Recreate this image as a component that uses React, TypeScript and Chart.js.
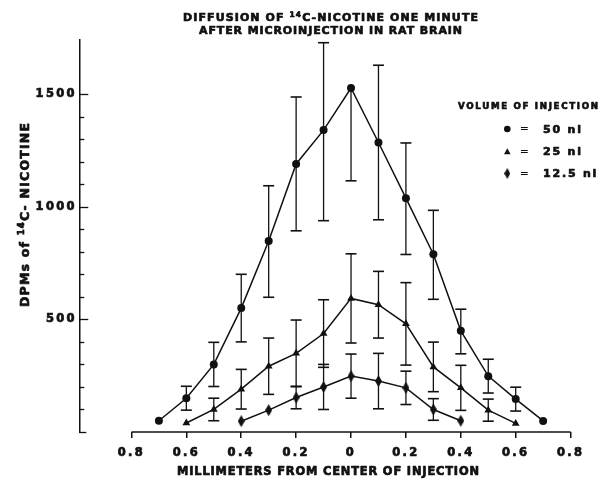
import React, { useEffect, useRef } from "react";
import { Chart, registerables } from "chart.js";
Chart.register(...registerables);

// ---- data ----
const xs50 = [-0.7, -0.6, -0.5, -0.4, -0.3, -0.2, -0.1, 0, 0.1, 0.2, 0.3, 0.4, 0.5, 0.6, 0.7];
const dpm50 = [50, 150, 300, 550, 848, 1190, 1340, 1527, 1285, 1038, 789, 449, 248, 146, 49];
const errUp50 = [0, 53, 98, 150, 245, 297, 388, 0, 343, 245, 195, 96, 75, 53, 0];
const errDown50 = [0, 53, 98, 150, 250, 297, 402, 412, 343, 250, 200, 102, 75, 53, 0];

const xs25 = [-0.6, -0.5, -0.4, -0.3, -0.2, -0.1, 0, 0.1, 0.2, 0.3, 0.4, 0.5, 0.6];
const dpm25 = [40, 100, 190, 292, 349, 437, 593, 565, 480, 289, 196, 97, 38];
const err25 = [0, 50, 88, 125, 148, 150, 198, 148, 183, 110, 100, 49, 0];

const xs12 = [-0.4, -0.3, -0.2, -0.1, 0, 0.1, 0.2, 0.3, 0.4];
const dpm12 = [48, 97, 153, 200, 248, 226, 196, 100, 50];
const err12 = [0, 0, 50, 100, 98, 123, 74, 48, 0];

const xTickValues = [-0.8, -0.6, -0.4, -0.2, 0, 0.2, 0.4, 0.6, 0.8];
const xTickLabels = ["0.8", "0.6", "0.4", "0.2", "0", "0.2", "0.4", "0.6", "0.8"];
const yTickValues = [0, 100, 200, 300, 400, 500, 600, 700, 800, 900, 1000, 1100, 1200, 1300, 1400, 1500];
const yLabelledTicks = [500, 1000, 1500];

const seriesLabels = ["50 nl", "25 nl", "12.5 nl"];
const titleLine2 = "AFTER MICROINJECTION IN RAT BRAIN";
const xTitle = "MILLIMETERS FROM CENTER OF INJECTION";
const legendTitle = "VOLUME OF INJECTION";

const FAM = '"DejaVu Sans"';
const INK = "#111";
const HEAVY = 0.7;

type Seg = { t: string; size: number; dy?: number; weight?: string };

function measureSegs(ctx: CanvasRenderingContext2D, segs: Seg[]) {
  return segs.map((s) => {
    ctx.font = `${s.weight || "bold"} ${s.size}px ${FAM}`;
    return ctx.measureText(s.t).width;
  });
}

function drawRich(
  ctx: CanvasRenderingContext2D,
  segs: Seg[],
  x: number,
  y: number,
  o: { width?: number; spacing?: number; align: "left" | "center" }
) {
  (ctx as any).letterSpacing = "0px";
  const nChars = segs.reduce((a, s) => a + s.t.length, 0);
  let spacing = o.spacing || 0;
  if (o.width) {
    const nat = measureSegs(ctx, segs).reduce((a, b) => a + b, 0);
    spacing = (o.width - nat) / (nChars - 1);
  }
  (ctx as any).letterSpacing = `${spacing}px`;
  const ws = measureSegs(ctx, segs);
  const total = ws.reduce((a, b) => a + b, 0) - spacing;
  let cx = o.align === "center" ? x - total / 2 : x;
  ctx.textAlign = "left";
  ctx.textBaseline = "alphabetic";
  ctx.lineWidth = HEAVY;
  ctx.lineJoin = "round";
  segs.forEach((s, i) => {
    ctx.font = `${s.weight || "bold"} ${s.size}px ${FAM}`;
    ctx.fillText(s.t, cx, y + (s.dy || 0));
    ctx.strokeText(s.t, cx, y + (s.dy || 0));
    cx += ws[i];
  });
}

function makeDiamond(w: number, h: number) {
  const c = document.createElement("canvas");
  c.width = w;
  c.height = h;
  const g = c.getContext("2d")!;
  g.fillStyle = INK;
  g.beginPath();
  g.moveTo(w / 2, 0);
  g.lineTo(w, h / 2);
  g.lineTo(w / 2, h);
  g.lineTo(0, h / 2);
  g.closePath();
  g.fill();
  return c;
}

const errorBars = {
  id: "errorBars",
  beforeDatasetsDraw(chart: any) {
    const ctx = chart.ctx as CanvasRenderingContext2D;
    const ys = chart.scales.y;
    ctx.save();
    ctx.strokeStyle = INK;
    chart.data.datasets.forEach((ds: any, di: number) => {
      const meta = chart.getDatasetMeta(di);
      meta.data.forEach((pt: any, i: number) => {
        const v = ds.data[i].y;
        const up = ds.errUp[i];
        const dn = ds.errDown[i];
        if (!up && !dn) return;
        const x = pt.x;
        const yTop = ys.getPixelForValue(v + up);
        const yBot = ys.getPixelForValue(v - dn);
        ctx.lineWidth = 1.3;
        ctx.beginPath();
        ctx.moveTo(x, yBot);
        ctx.lineTo(x, yTop);
        ctx.stroke();
        ctx.lineWidth = 1.6;
        if (up) {
          ctx.beginPath();
          ctx.moveTo(x - 5.5, yTop);
          ctx.lineTo(x + 5.5, yTop);
          ctx.stroke();
        }
        if (dn) {
          ctx.beginPath();
          ctx.moveTo(x - 5.5, yBot);
          ctx.lineTo(x + 5.5, yBot);
          ctx.stroke();
        }
      });
    });
    ctx.restore();
  },
};

const spacingPlugin = {
  id: "spacing",
  beforeDraw(chart: any) {
    (chart.ctx as any).letterSpacing = "2.3px";
  },
};

function makeDecor(diamond: HTMLCanvasElement) {
  return {
    id: "decor",
    afterDraw(chart: any) {
      const ctx = chart.ctx as CanvasRenderingContext2D;
      const xs = chart.scales.x;
      const ys = chart.scales.y;
      ctx.save();
      ctx.fillStyle = INK;
      ctx.strokeStyle = INK;

      // x axis line between first and last tick
      ctx.lineWidth = 1.5;
      ctx.beginPath();
      ctx.moveTo(xs.getPixelForValue(xTickValues[0]), xs.top);
      ctx.lineTo(xs.getPixelForValue(xTickValues[xTickValues.length - 1]), xs.top);
      ctx.stroke();

      // inward y ticks
      const left = ys.right;
      ys.ticks.forEach((t: any) => {
        const py = Math.round(ys.getPixelForValue(t.value)) + 0.5;
        const len = yLabelledTicks.includes(t.value) ? 9 : t.value === 0 ? 7 : 5;
        ctx.lineWidth = 1.3;
        ctx.beginPath();
        ctx.moveTo(left, py);
        ctx.lineTo(left + len, py);
        ctx.stroke();
      });

      // title
      drawRich(
        ctx,
        [
          { t: "DIFFUSION OF ", size: 11 },
          { t: "14", size: 7.5, dy: -4 },
          { t: "C-NICOTINE ONE MINUTE", size: 11 },
        ],
        330.5,
        20.7,
        { width: 295, align: "center" }
      );
      drawRich(ctx, [{ t: titleLine2, size: 11 }], 330.5, 34.3, { width: 263, align: "center" });

      // x title
      drawRich(ctx, [{ t: xTitle, size: 11.4 }], 328, 475, { width: 302, align: "center" });

      // y title
      ctx.save();
      ctx.translate(29.3, 215);
      ctx.rotate(-Math.PI / 2);
      drawRich(
        ctx,
        [
          { t: "DPMs of ", size: 12.5 },
          { t: "14", size: 8.5, dy: -5.5 },
          { t: "C- NICOTINE", size: 12.5 },
        ],
        0,
        0,
        { width: 184, align: "center" }
      );
      ctx.restore();

      // legend
      drawRich(ctx, [{ t: legendTitle, size: 8.7 }], 458, 109, { width: 140, align: "left" });
      const rows = [129, 151.7, 173.5];
      const mx = 507.3;
      ctx.beginPath();
      ctx.arc(mx, rows[0], 3.3, 0, Math.PI * 2);
      ctx.fill();
      ctx.beginPath();
      ctx.moveTo(mx, rows[1] - 3.5);
      ctx.lineTo(mx + 3.3, rows[1] + 2.5);
      ctx.lineTo(mx - 3.3, rows[1] + 2.5);
      ctx.closePath();
      ctx.fill();
      ctx.drawImage(diamond, mx - diamond.width / 2, rows[2] - diamond.height / 2);
      seriesLabels.forEach((lab, i) => {
        (ctx as any).letterSpacing = "0px";
        ctx.font = `normal 11px ${FAM}`;
        ctx.textAlign = "center";
        ctx.textBaseline = "middle";
        ctx.fillText("=", 524.3, rows[i] + 0.5);
        drawRich(ctx, [{ t: lab, size: 11 }], 543, rows[i] + 3.6, { spacing: 1.8, align: "left" });
      });
      ctx.restore();
    },
  };
}

export default function App() {
  const ref = useRef<HTMLCanvasElement>(null);
  useEffect(() => {
    document.body.style.margin = "0";
    const diamond = makeDiamond(7, 12);
    const legendDiamond = makeDiamond(6, 11);
    const mk = (xs: number[], ys: number[]) => xs.map((x, i) => ({ x, y: ys[i] }));
    const tickFont = { family: "DejaVu Sans", weight: "bold", size: 11.5 };
    const chart = new Chart(ref.current!, {
      type: "line",
      data: {
        datasets: [
          {
            label: seriesLabels[0],
            data: mk(xs50, dpm50),
            errUp: errUp50,
            errDown: errDown50,
            borderColor: INK,
            borderWidth: 1.5,
            backgroundColor: INK,
            pointStyle: "circle",
            pointRadius: 4,
            pointBorderWidth: 0,
            tension: 0,
          } as any,
          {
            label: seriesLabels[1],
            data: mk(xs25, dpm25),
            errUp: err25,
            errDown: err25,
            borderColor: INK,
            borderWidth: 1.5,
            backgroundColor: INK,
            pointStyle: "triangle",
            pointRadius: 4.5,
            pointBorderWidth: 0,
            tension: 0,
          } as any,
          {
            label: seriesLabels[2],
            data: mk(xs12, dpm12),
            errUp: err12,
            errDown: err12,
            borderColor: INK,
            borderWidth: 1.5,
            backgroundColor: INK,
            pointStyle: diamond,
            pointRadius: 5,
            tension: 0,
          } as any,
        ],
      },
      options: {
        animation: false,
        responsive: false,
        devicePixelRatio: 1,
        layout: { padding: { top: 40, right: 33.4, left: 0, bottom: 0 } },
        plugins: { legend: { display: false }, tooltip: { enabled: false }, title: { display: false } },
        scales: {
          x: {
            type: "linear",
            min: -0.99,
            max: 0.8,
            afterBuildTicks: (s: any) => {
              s.ticks = xTickValues.map((v) => ({ value: v }));
            },
            afterFit: (s: any) => {
              s.height = 58;
              s.paddingLeft = 0;
              s.paddingRight = 0;
            },
            grid: { drawOnChartArea: false, drawTicks: true, tickLength: 6, color: INK, lineWidth: 1.5 },
            border: { display: false },
            ticks: {
              autoSkip: false,
              maxRotation: 0,
              padding: 8,
              color: INK,
              textStrokeColor: INK,
              textStrokeWidth: HEAVY,
              font: tickFont,
              callback: (v: any) => {
                const i = xTickValues.findIndex((t) => Math.abs(t - v) < 1e-6);
                return i >= 0 ? xTickLabels[i] : "";
              },
            },
          },
          y: {
            type: "linear",
            min: 0,
            max: 1740,
            afterBuildTicks: (s: any) => {
              s.ticks = yTickValues.map((v) => ({ value: v }));
            },
            afterFit: (s: any) => {
              s.width = 79.3;
              s.paddingTop = 0;
              s.paddingBottom = 0;
            },
            grid: { display: false, drawTicks: false },
            border: { display: true, color: INK, width: 1.5 },
            ticks: {
              autoSkip: false,
              padding: 2.5,
              color: INK,
              textStrokeColor: INK,
              textStrokeWidth: HEAVY,
              font: tickFont,
              callback: (v: any) => (yLabelledTicks.includes(v) ? String(v) : ""),
            },
          },
        },
      },
      plugins: [spacingPlugin, errorBars, makeDecor(legendDiamond)],
    } as any);
    return () => chart.destroy();
  }, []);
  return <canvas ref={ref} width={604} height={490} style={{ display: "block", width: 604, height: 490 }} />;
}
